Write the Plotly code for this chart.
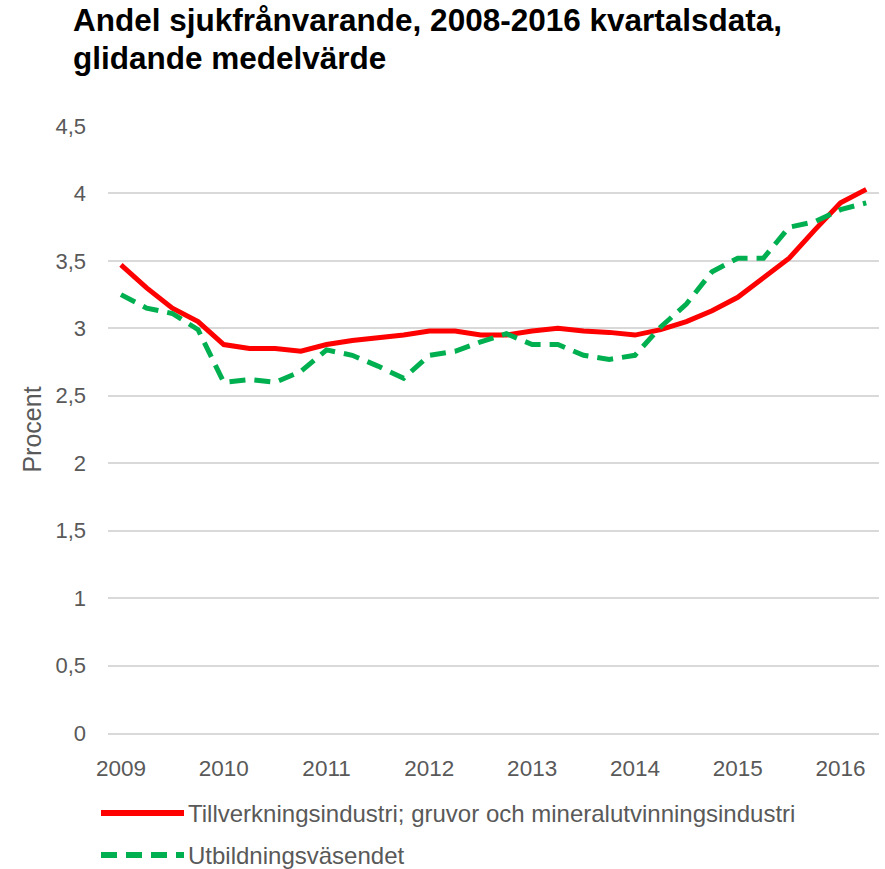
import plotly.graph_objects as go

# quarterly points, 2009 Q1 .. 2016 Q2
quarters = [2009 + i * 0.25 for i in range(30)]

tillverkning = [3.47, 3.30, 3.15, 3.05, 2.88, 2.85, 2.85, 2.83, 2.88, 2.91,
                2.93, 2.95, 2.98, 2.98, 2.95, 2.95, 2.98, 3.00, 2.98, 2.97,
                2.95, 2.99, 3.05, 3.13, 3.23, 3.37, 3.52, 3.73, 3.93, 4.03]

utbildning = [3.25, 3.15, 3.11, 2.99, 2.60, 2.62, 2.60, 2.68, 2.84, 2.80,
              2.72, 2.63, 2.80, 2.83, 2.90, 2.96, 2.88, 2.88, 2.80, 2.77,
              2.80, 3.01, 3.18, 3.42, 3.52, 3.52, 3.75, 3.79, 3.88, 3.93]

series_names = ["Tillverkningsindustri; gruvor och mineralutvinningsindustri",
                "Utbildningsväsendet"]
series_colors = ["#ff0000", "#00b050"]
series_dash = ["solid", "16px,9px"]

title_lines = ["Andel sjukfrånvarande, 2008-2016 kvartalsdata,", "glidande medelvärde"]

year_ticks = [2009, 2010, 2011, 2012, 2013, 2014, 2015, 2016]
y_ticks = [0, 0.5, 1, 1.5, 2, 2.5, 3, 3.5, 4, 4.5]
y_labels = ["0", "0,5", "1", "1,5", "2", "2,5", "3", "3,5", "4", "4,5"]

grey = "#595959"
font_family = "Liberation Sans, Arial, sans-serif"

fig = go.Figure()
for name, ys, col, dash in zip(series_names, [tillverkning, utbildning],
                               series_colors, series_dash):
    fig.add_trace(go.Scatter(x=quarters, y=ys, mode="lines", name=name,
                             line=dict(color=col, width=5, dash=dash)))

# plot area in pixels: x 108..879, y 126..733
pw, ph = 771, 607

# legend drawn below the plot (long keys as in the original)
for i, (name, col, dash) in enumerate(zip(series_names, series_colors, series_dash)):
    ly = (733 - (813 + 42 * i)) / ph
    fig.add_shape(type="line", xref="paper", yref="paper",
                  x0=(101 - 108) / pw, x1=(184 - 108) / pw, y0=ly, y1=ly,
                  line=dict(color=col, width=6, dash=dash))
    fig.add_annotation(xref="paper", yref="paper", x=(187 - 108) / pw, y=ly,
                       xanchor="left", yanchor="middle", showarrow=False,
                       text=name, borderpad=0,
                       font=dict(size=24, color=grey, family=font_family))

# title, two lines meeting at one edge so the lines sit tight like the original
split = (733 - 39) / ph
for line, anchor in zip(title_lines, ["bottom", "top"]):
    fig.add_annotation(xref="paper", yref="paper", x=(72 - 108) / pw, y=split,
                       xanchor="left", yanchor=anchor, showarrow=False,
                       text="<b>" + line + "</b>", borderpad=0,
                       font=dict(size=31.5, color="black", family=font_family))

fig.update_layout(
    width=885, height=869,
    margin=dict(l=108, r=6, t=126, b=136),
    paper_bgcolor="white", plot_bgcolor="white",
    font=dict(family=font_family, size=22, color=grey),
    xaxis=dict(range=[2008.874, 2016.374], tickvals=year_ticks,
               ticktext=[str(y) for y in year_ticks],
               showgrid=False, zeroline=False, ticks="",
               showline=True, linecolor="#d9d9d9", linewidth=1.5,
               ticklabelstandoff=14, automargin=False,
               tickfont=dict(size=22.5, color=grey)),
    yaxis=dict(range=[0, 4.5], tickvals=y_ticks, ticktext=y_labels,
               gridcolor="#d9d9d9", gridwidth=1.5, zeroline=False, ticks="",
               ticklabelstandoff=21, automargin=False,
               tickfont=dict(size=22, color=grey),
               title=dict(text="Procent", standoff=6,
                          font=dict(size=25, color=grey))),
    showlegend=False,
)

# drop the browser's default 8px body margin so the chart fills the window
fig.write_html("out.html", config={"displayModeBar": False},
               post_script="document.body.style.margin = '0';")
